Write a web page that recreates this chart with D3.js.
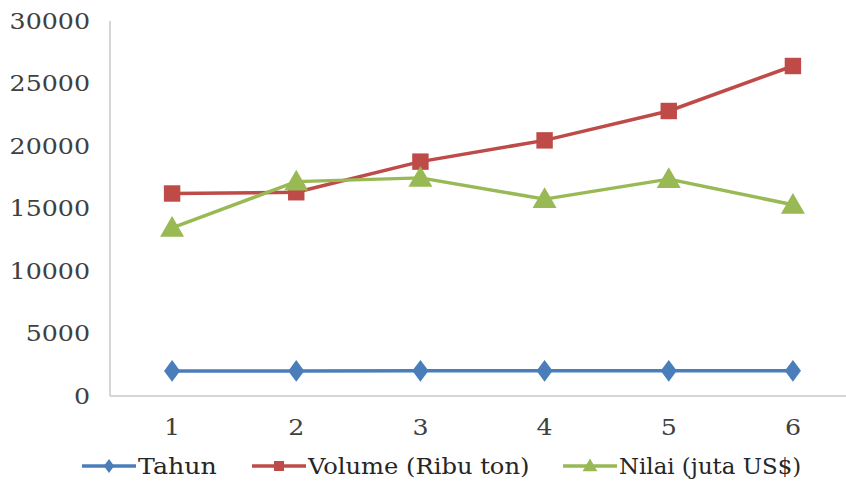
<!DOCTYPE html>
<html><head><meta charset="utf-8">
<script src="https://cdn.jsdelivr.net/npm/d3@7"></script>
<style>html,body{margin:0;padding:0;background:#fff;}</style>
</head><body>
<svg id="c" width="846" height="486"></svg>
<script>
const categories = ["1","2","3","4","5","6"];
const tahun = [2009, 2010, 2011, 2012, 2013, 2014];
const volume = [16200, 16300, 18750, 20450, 22800, 26400];
const nilai = [13450, 17150, 17450, 15750, 17350, 15300];
const yTicks = [0, 5000, 10000, 15000, 20000, 25000, 30000];
const seriesNames = ["Tahun", "Volume (Ribu ton)", "Nilai (juta US$)"];

(function(){
const series = [
  {name: seriesNames[0], values: tahun, color: "#4a7ebb", shape: d3.symbolDiamond2 || d3.symbolDiamond},
  {name: seriesNames[1], values: volume, color: "#be4b48", shape: d3.symbolSquare},
  {name: seriesNames[2], values: nilai, color: "#98b954", shape: d3.symbolTriangle}
];

const svg = d3.select("#c");
const mLeft = 110, mRight = 855, mTop = 21, mBottom = 396;
const x = d3.scaleBand().domain(categories).range([mLeft, mRight]);
const y = d3.scaleLinear().domain([0, 30000]).range([mBottom, mTop]);
const font = "'DejaVu Serif', serif";
const sx = 1.15;

svg.append("line").attr("x1", mLeft).attr("x2", mLeft).attr("y1", mTop).attr("y2", mBottom)
  .attr("stroke", "#c8c8c8").attr("stroke-width", 1.5);
svg.append("line").attr("x1", mLeft).attr("x2", mRight).attr("y1", mBottom).attr("y2", mBottom)
  .attr("stroke", "#c8c8c8").attr("stroke-width", 1.5);

svg.append("g").selectAll("text").data(yTicks).join("text")
  .attr("transform", d => `translate(90,${y(d)}) scale(${sx},1)`).attr("dy", "0.35em")
  .attr("text-anchor", "end").attr("font-family", font).attr("font-size", 22)
  .attr("fill", "#404040").text(d => d);

svg.append("g").selectAll("text").data(categories).join("text")
  .attr("transform", d => `translate(${x(d) + x.bandwidth()/2},427) scale(${sx},1)`).attr("dy", "0.35em")
  .attr("text-anchor", "middle").attr("font-family", font).attr("font-size", 22)
  .attr("fill", "#404040").text(d => d);

const line = d3.line().x((d,i) => x(categories[i]) + x.bandwidth()/2).y(d => y(d));

series.forEach((s, si) => {
  const g = svg.append("g");
  g.append("path").datum(s.values).attr("d", line).attr("fill", "none")
    .attr("stroke", s.color).attr("stroke-width", 3.5).attr("stroke-linejoin", "round");
  const size = si === 1 ? 270 : (si === 0 ? 230 : 250);
  g.selectAll("path.m").data(s.values).join("path").attr("class", "m")
    .attr("d", d3.symbol().type(s.shape).size(size))
    .attr("transform", (d,i) => `translate(${x(categories[i]) + x.bandwidth()/2},${y(d) + (si===2?2:0)})${si===0?" scale(0.85,1.15)":""}`)
    .attr("fill", s.color);
});

const legendX = [82, 252, 563];
const legendScale = [1.15, 1.10, 1.04];
series.forEach((s, si) => {
  const g = svg.append("g").attr("transform", `translate(${legendX[si]},466)`);
  g.append("line").attr("x1", 0).attr("x2", 54).attr("y1", 0).attr("y2", 0)
    .attr("stroke", s.color).attr("stroke-width", 3.5);
  g.append("path").attr("d", d3.symbol().type(s.shape).size(si===1?100:95))
    .attr("transform", `translate(27,${si===2?1:0})${si===0?" scale(0.85,1.15)":""}`).attr("fill", s.color);
  g.append("text").attr("transform", `translate(56,0) scale(${legendScale[si]},1)`).attr("dy", "0.35em")
    .attr("font-family", font).attr("font-size", 22).attr("fill", "#262626").text(s.name);
});
})();
</script>
</body></html>
